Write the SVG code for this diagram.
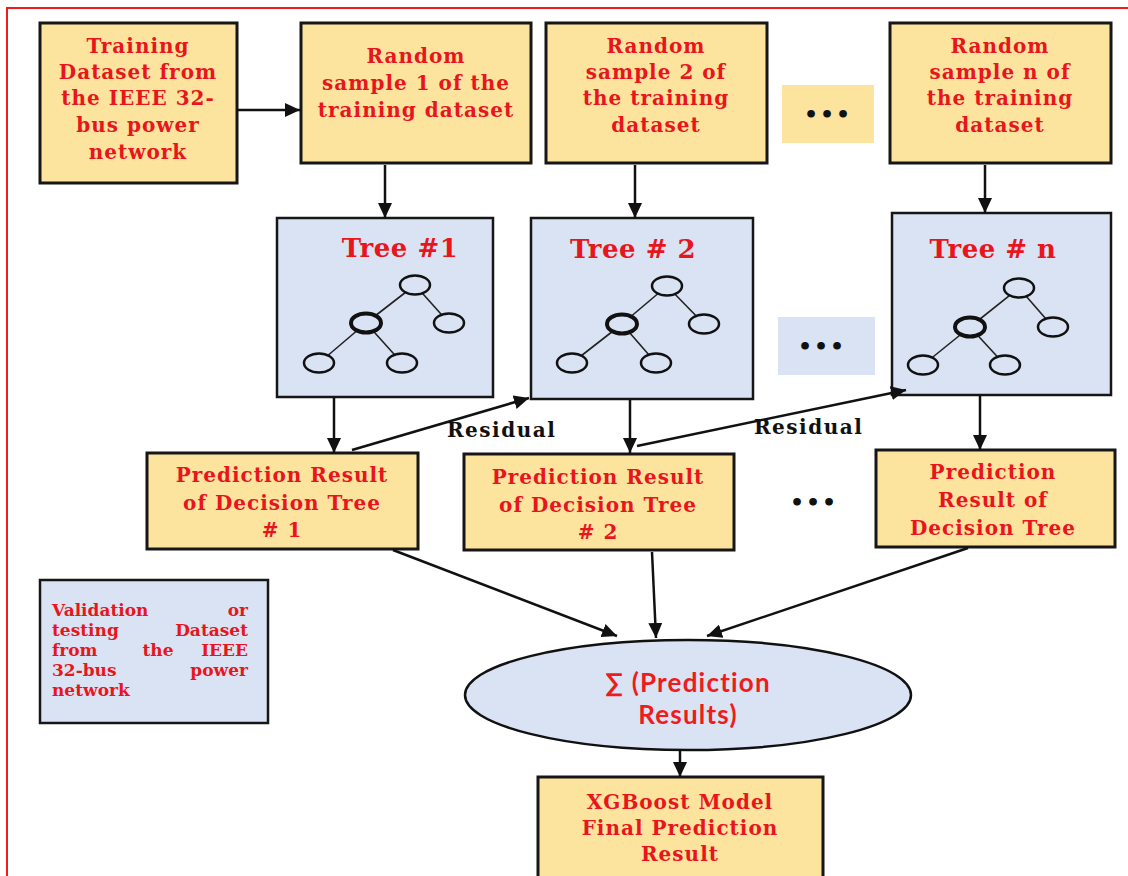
<svg xmlns="http://www.w3.org/2000/svg" width="1128" height="876" viewBox="0 0 1128 876">
<defs>
<marker id="ah" markerUnits="userSpaceOnUse" markerWidth="16" markerHeight="14" refX="15" refY="7" orient="auto">
<path d="M0,0 L15,7 L0,14 z" fill="#111"/>
</marker>
<style>
.bg{fill:#ffffff}
.frame{stroke:#ee1c1c;stroke-width:2;fill:none}
.yb{fill:#fde49e;stroke:#161616;stroke-width:3}
.bb{fill:#dae3f3;stroke:#161616;stroke-width:2.5}
.yp{fill:#fde49e}
.bp{fill:#dae3f3}
.t{font-family:"DejaVu Serif","Liberation Serif",serif;font-weight:bold;font-size:20px;fill:#e8161c;text-anchor:middle;letter-spacing:1px}
.tt{font-family:"DejaVu Serif","Liberation Serif",serif;font-weight:bold;font-size:26px;fill:#e8161c;text-anchor:middle;letter-spacing:0.5px}
.res{font-family:"DejaVu Serif","Liberation Serif",serif;font-weight:bold;font-size:20px;fill:#111;letter-spacing:1.5px}
.v{font-family:"DejaVu Serif","Liberation Serif",serif;font-weight:bold;font-size:17px;fill:#e8161c}
.s{font-family:Lato,"Open Sans","Liberation Sans",sans-serif;font-weight:bold;font-size:26px;fill:#ee1c1c;text-anchor:middle;letter-spacing:1.2px}
.dots{font-family:"DejaVu Sans",sans-serif;font-weight:bold;font-size:22px;fill:#111;text-anchor:middle;letter-spacing:2px}
.c{stroke:#111;stroke-width:2.5;fill:none}
.ed{stroke:#222;stroke-width:1.6}
.nd{fill:#dae3f3;stroke:#111;stroke-width:2.5}
.nb{fill:#dae3f3;stroke:#111;stroke-width:4}
</style>
</defs>
<rect class="bg" x="0" y="0" width="1128" height="876"/>
<path class="frame" d="M7,876 L7,8 L1128,8"/>

<g id="training">
<rect class="yb" x="40" y="23" width="197" height="160"/>
<text class="t" x="138" y="53">Training</text>
<text class="t" x="138" y="79">Dataset from</text>
<text class="t" x="138" y="105">the IEEE 32-</text>
<text class="t" x="138" y="132">bus power</text>
<text class="t" x="138" y="159">network</text>
</g>

<g id="sample1">
<rect class="yb" x="301" y="23" width="230" height="140"/>
<text class="t" x="416" y="63">Random</text>
<text class="t" x="416" y="90">sample 1 of the</text>
<text class="t" x="416" y="117">training dataset</text>
</g>

<g id="sample2">
<rect class="yb" x="546" y="23" width="221" height="140"/>
<text class="t" x="656" y="53">Random</text>
<text class="t" x="656" y="79">sample 2 of</text>
<text class="t" x="656" y="105">the training</text>
<text class="t" x="656" y="132">dataset</text>
</g>

<g id="dots-top">
<rect class="yp" x="782" y="85" width="92" height="58"/>
<text class="dots" x="828" y="122">•••</text>
</g>

<g id="samplen">
<rect class="yb" x="890" y="23" width="221" height="140"/>
<text class="t" x="1000" y="53">Random</text>
<text class="t" x="1000" y="79">sample n of</text>
<text class="t" x="1000" y="105">the training</text>
<text class="t" x="1000" y="132">dataset</text>
</g>

<g id="tree1">
<rect class="bb" x="277" y="218" width="216" height="179"/>
<text class="tt" x="400" y="257">Tree #1</text>
<line class="ed" x1="415" y1="285" x2="366" y2="323"/>
<line class="ed" x1="415" y1="285" x2="449" y2="323"/>
<line class="ed" x1="366" y1="323" x2="319" y2="363"/>
<line class="ed" x1="366" y1="323" x2="402" y2="363"/>
<ellipse class="nd" cx="415" cy="285" rx="15" ry="9.5"/>
<ellipse class="nb" cx="366" cy="323" rx="15" ry="9.5"/>
<ellipse class="nd" cx="449" cy="323" rx="15" ry="9.5"/>
<ellipse class="nd" cx="319" cy="363" rx="15" ry="9.5"/>
<ellipse class="nd" cx="402" cy="363" rx="15" ry="9.5"/>
</g>

<g id="tree2">
<rect class="bb" x="531" y="218" width="222" height="181"/>
<text class="tt" x="633" y="258">Tree # 2</text>
<line class="ed" x1="667" y1="286" x2="622" y2="324"/>
<line class="ed" x1="667" y1="286" x2="704" y2="324"/>
<line class="ed" x1="622" y1="324" x2="572" y2="363"/>
<line class="ed" x1="622" y1="324" x2="656" y2="363"/>
<ellipse class="nd" cx="667" cy="286" rx="15" ry="9.5"/>
<ellipse class="nb" cx="622" cy="324" rx="15" ry="9.5"/>
<ellipse class="nd" cx="704" cy="324" rx="15" ry="9.5"/>
<ellipse class="nd" cx="572" cy="363" rx="15" ry="9.5"/>
<ellipse class="nd" cx="656" cy="363" rx="15" ry="9.5"/>
</g>

<g id="dots-mid">
<rect class="bp" x="778" y="317" width="97" height="58"/>
<text class="dots" x="822" y="354">•••</text>
</g>

<g id="treen">
<rect class="bb" x="892" y="213" width="219" height="182"/>
<text class="tt" x="993" y="258">Tree # n</text>
<line class="ed" x1="1019" y1="288" x2="970" y2="327"/>
<line class="ed" x1="1019" y1="288" x2="1053" y2="327"/>
<line class="ed" x1="970" y1="327" x2="923" y2="365"/>
<line class="ed" x1="970" y1="327" x2="1005" y2="365"/>
<ellipse class="nd" cx="1019" cy="288" rx="15" ry="9.5"/>
<ellipse class="nb" cx="970" cy="327" rx="15" ry="9.5"/>
<ellipse class="nd" cx="1053" cy="327" rx="15" ry="9.5"/>
<ellipse class="nd" cx="923" cy="365" rx="15" ry="9.5"/>
<ellipse class="nd" cx="1005" cy="365" rx="15" ry="9.5"/>
</g>

<g id="pred1">
<rect class="yb" x="147" y="453" width="271" height="96"/>
<text class="t" x="282" y="482">Prediction Result</text>
<text class="t" x="282" y="510">of Decision Tree</text>
<text class="t" x="282" y="537"># 1</text>
</g>

<g id="pred2">
<rect class="yb" x="464" y="454" width="270" height="96"/>
<text class="t" x="598" y="484">Prediction Result</text>
<text class="t" x="598" y="512">of Decision Tree</text>
<text class="t" x="598" y="539"># 2</text>
</g>

<g id="dots-pred">
<text class="dots" x="814" y="510">•••</text>
</g>

<g id="predn">
<rect class="yb" x="876" y="450" width="239" height="97"/>
<text class="t" x="993" y="479">Prediction</text>
<text class="t" x="993" y="507">Result of</text>
<text class="t" x="993" y="535">Decision Tree</text>
</g>

<g id="validation">
<rect class="bb" x="40" y="580" width="228" height="143"/>
<text class="v" x="52" y="616">Validation</text>
<text class="v" x="248" y="616" text-anchor="end">or</text>
<text class="v" x="52" y="636">testing</text>
<text class="v" x="248" y="636" text-anchor="end">Dataset</text>
<text class="v" x="52" y="656">from</text>
<text class="v" x="158" y="656" text-anchor="middle">the</text>
<text class="v" x="248" y="656" text-anchor="end">IEEE</text>
<text class="v" x="52" y="676">32-bus</text>
<text class="v" x="248" y="676" text-anchor="end">power</text>
<text class="v" x="52" y="696">network</text>
</g>

<g id="sum">
<ellipse cx="688" cy="695" rx="223" ry="55" fill="#dae3f3" stroke="#111" stroke-width="2.5"/>
<text class="s" x="688" y="692">∑ (Prediction</text>
<text class="s" x="688" y="724">Results)</text>
</g>

<g id="final">
<rect class="yb" x="538" y="777" width="285" height="104"/>
<text class="t" x="680" y="809">XGBoost Model</text>
<text class="t" x="680" y="835">Final Prediction</text>
<text class="t" x="680" y="861">Result</text>
</g>

<g id="connectors">
<line class="c" x1="237" y1="110" x2="300" y2="110" marker-end="url(#ah)"/>
<line class="c" x1="385" y1="165" x2="385" y2="218" marker-end="url(#ah)"/>
<line class="c" x1="635" y1="165" x2="635" y2="218" marker-end="url(#ah)"/>
<line class="c" x1="985" y1="165" x2="985" y2="213" marker-end="url(#ah)"/>
<line class="c" x1="334" y1="398" x2="334" y2="453" marker-end="url(#ah)"/>
<line class="c" x1="630" y1="400" x2="630" y2="453" marker-end="url(#ah)"/>
<line class="c" x1="980" y1="396" x2="980" y2="450" marker-end="url(#ah)"/>
<line class="c" x1="352" y1="450" x2="529" y2="398" marker-end="url(#ah)"/>
<line class="c" x1="637" y1="446" x2="906" y2="390" marker-end="url(#ah)"/>
<line class="c" x1="393" y1="550" x2="617" y2="636" marker-end="url(#ah)"/>
<line class="c" x1="652" y1="552" x2="656" y2="638" marker-end="url(#ah)"/>
<line class="c" x1="968" y1="548" x2="707" y2="636" marker-end="url(#ah)"/>
<line class="c" x1="680" y1="751" x2="680" y2="777" marker-end="url(#ah)"/>
<text class="res" x="447" y="437">Residual</text>
<text class="res" x="754" y="434">Residual</text>
</g>
</svg>
